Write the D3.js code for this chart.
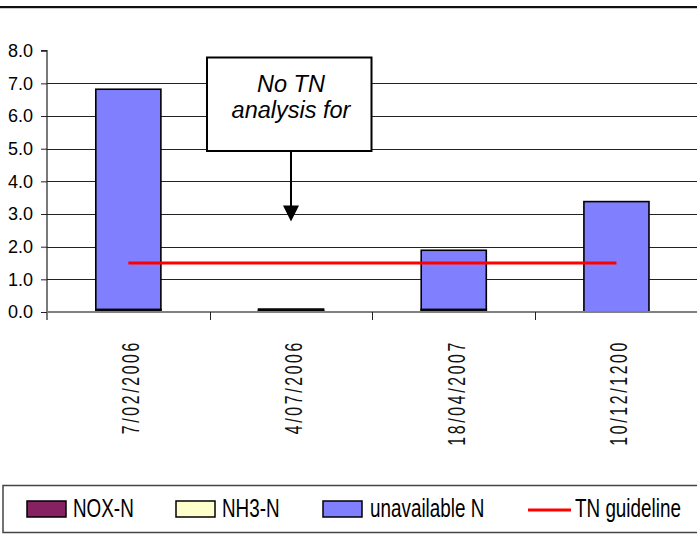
<!DOCTYPE html>
<html><head><meta charset="utf-8">
<script src="https://cdn.jsdelivr.net/npm/d3@7"></script>
<style>
html,body{margin:0;padding:0;background:#fff;}
svg{display:block;font-family:"Liberation Sans",Arial,sans-serif;}
</style></head>
<body>
<svg id="c" width="697" height="535"></svg>
<script>
const categories = ["7/02/2006", "4/07/2006", "18/04/2007", "10/12/1200"];
const noxN = [0.03, 0.04, 0.03, 0.0];
const nh3N = [0.05, 0.05, 0.05, 0.0];
const unavailableN = [6.74, 0.0, 1.81, 3.38];
const tnGuideline = [1.5, 1.5, 1.5, 1.5];
const yTicks = [0, 1, 2, 3, 4, 5, 6, 7, 8];
const seriesNames = ["NOX-N", "NH3-N", "unavailable N"];
const seriesColors = ["#862262", "#FFFFCC", "#8080FF"];
const annotationLines = ["No TN", "analysis for"];

(function () {
const svg = d3.select("#c");
const pLeft = 47, pRight = 697.8, pTop = 50.7, pBottom = 312;

const x = d3.scaleBand().domain(categories).range([pLeft, pRight]).paddingInner(0.6).paddingOuter(0.3);
const y = d3.scaleLinear().domain([0, 8]).range([pBottom, pTop]);

// top border line
svg.append("line").attr("x1",0).attr("x2",697).attr("y1",7).attr("y2",7).attr("stroke","#111").attr("stroke-width",2);
svg.append("line").attr("x1",0).attr("x2",697).attr("y1",8.5).attr("y2",8.5).attr("stroke","#ccc").attr("stroke-width",1);

// gridlines
svg.append("g").selectAll("line").data(yTicks.filter(d => d > 0 && d < 8)).join("line")
  .attr("x1", pLeft).attr("x2", 697).attr("y1", d => Math.round(y(d)) + 0.5).attr("y2", d => Math.round(y(d)) + 0.5)
  .attr("stroke", "#222").attr("stroke-width", 1);

// y axis
const yAxis = d3.axisLeft(y).tickValues(yTicks).tickFormat(d3.format(".1f")).tickSize(6).tickPadding(8);
const gy = svg.append("g").attr("transform", `translate(${pLeft},0)`).call(yAxis);
gy.select(".domain").attr("stroke", "#222").attr("stroke-width", 1.2).attr("d", `M-6,${y(8)}H0V${pBottom + 8}`);
gy.selectAll(".tick line").attr("stroke", "#222");
gy.selectAll(".tick text").attr("font-size", 18).attr("fill", "#000").attr("font-family", "Liberation Sans, Arial, sans-serif");

// stacked bars
const table = categories.map((c, i) => ({cat: c, "NOX-N": noxN[i], "NH3-N": nh3N[i], "unavailable N": unavailableN[i]}));
const stack = d3.stack().keys(seriesNames)(table);
svg.append("g").selectAll("g").data(stack).join("g")
  .attr("fill", (d, i) => seriesColors[i])
  .selectAll("rect").data(d => d.filter(s => s[1] - s[0] > 0)).join("rect")
  .attr("x", d => x(d.data.cat)).attr("width", x.bandwidth())
  .attr("y", d => y(d[1])).attr("height", d => y(d[0]) - y(d[1]))
  .attr("stroke", "#000").attr("stroke-width", 1.6);

// x axis line
const xAxis = d3.axisBottom(x).tickSize(0).tickFormat("");
const gx = svg.append("g").attr("transform", `translate(0,${pBottom})`).call(xAxis);
gx.select(".domain").attr("stroke", "#808080").attr("stroke-width", 2).attr("d", `M${pLeft},0H697`);
// category boundary ticks
const step = x.step();
const boundaries = [1, 2, 3].map(i => pLeft + i * step);
svg.append("g").selectAll("line").data(boundaries).join("line")
  .attr("x1", d => Math.round(d) + 0.5).attr("x2", d => Math.round(d) + 0.5).attr("y1", pBottom).attr("y2", pBottom + 8)
  .attr("stroke", "#222").attr("stroke-width", 1);

// x labels rotated
svg.append("g").selectAll("text").data(categories).join("text")
  .attr("transform", d => `translate(${x(d) + x.bandwidth() / 2 + 11},340) rotate(-90) scale(0.66,1)`)
  .attr("text-anchor", "end").attr("font-size", 24).attr("letter-spacing", 4).attr("fill", "#111")
  .text(d => d);

// TN guideline
const line = d3.line().x((d, i) => x(categories[i]) + x.bandwidth() / 2).y(d => y(d));
svg.append("path").datum(tnGuideline).attr("d", line).attr("stroke", "#FF0000").attr("stroke-width", 3).attr("fill", "none");

// annotation
const ann = svg.append("g");
ann.append("rect").attr("x", 207).attr("y", 57.5).attr("width", 164.5).attr("height", 93.5)
  .attr("fill", "#fff").attr("stroke", "#000").attr("stroke-width", 2);
ann.selectAll("text").data(annotationLines).join("text")
  .attr("x", 291).attr("y", (d, i) => 92 + i * 25.5).attr("text-anchor", "middle")
  .attr("font-size", 23.5).attr("font-style", "italic").attr("fill", "#000").text(d => d);
ann.append("line").attr("x1", 291).attr("x2", 291).attr("y1", 151).attr("y2", 207).attr("stroke", "#000").attr("stroke-width", 2);
ann.append("path").attr("d", "M283,205.5L299,205.5L291,221.5Z").attr("fill", "#000");

// legend
const lg = svg.append("g");
lg.append("rect").attr("x", 3).attr("y", 485.5).attr("width", 700).attr("height", 47).attr("fill", "none").attr("stroke", "#444").attr("stroke-width", 1.5);
const swX = [27, 176, 323];
const txX = [73, 222, 370];
seriesNames.forEach((n, i) => {
  lg.append("rect").attr("x", swX[i]).attr("y", 501).attr("width", 39).attr("height", 16)
    .attr("fill", seriesColors[i]).attr("stroke", "#000").attr("stroke-width", 1.5);
  lg.append("text").attr("transform", `translate(${txX[i]},517) scale(0.74,1)`).attr("font-size", 25.5).attr("fill", "#000").text(n);
});
lg.append("line").attr("x1", 528).attr("x2", 571).attr("y1", 510).attr("y2", 510).attr("stroke", "#FF0000").attr("stroke-width", 3);
lg.append("text").attr("transform", `translate(575,517) scale(0.74,1)`).attr("font-size", 25.5).attr("fill", "#000").text("TN guideline");
})();
</script>
</body></html>
